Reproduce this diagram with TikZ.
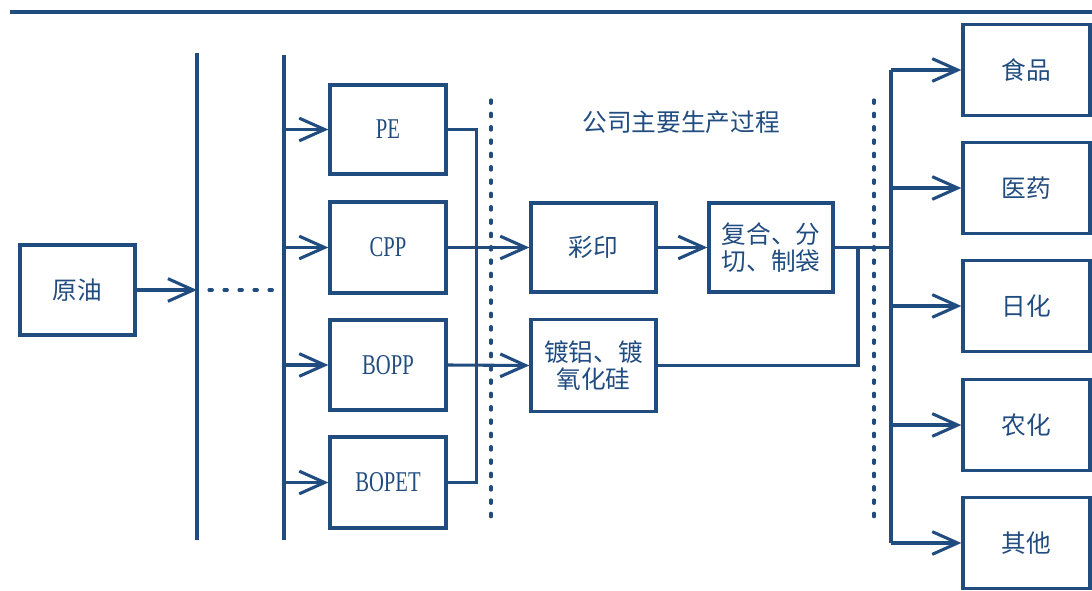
\documentclass[tikz,border=0pt]{standalone}
\usepackage{fontspec}
\usetikzlibrary{arrows.meta}
\newfontfamily\cjk{Noto Sans CJK SC}
\newfontfamily\latf[FakeStretch=0.72]{Liberation Serif}
\definecolor{dblue}{RGB}{33,76,128}
\begin{document}
\begin{tikzpicture}[x=0.75pt,y=-0.75pt,
 line/.style={draw=dblue, line width=2.3pt},
 arr/.style={line, -{Straight Barb[length=19pt,width=17pt]}},
 box/.style={draw=dblue, line width=2.5pt, minimum width=86.25pt, minimum height=67.5pt, inner sep=0pt, text=dblue, align=center},
 cn/.style={font=\cjk\fontsize{18.5}{20.5}\selectfont},
 en/.style={font=\latf\fontsize{21.5}{24}\selectfont},
 vdots/.style={draw=dblue, line width=2.4pt, line cap=round, dash pattern=on 2.5pt off 7.5pt},
 hdots/.style={draw=dblue, line width=2.3pt, line cap=round, dash pattern=on 2.5pt off 8.75pt},
]
\useasboundingbox (0,0) rectangle (1092,591);

% top rule
\coordinate (tl) at (10,12);
\coordinate (tr) at (1092,12);
\draw[draw=dblue, line width=2.6pt] (tl) -- (tr);

% left boxes
\node[box, cn] (yuanyou) at (77.5,290) {原油};
\node[box, en, minimum width=87pt, minimum height=66.75pt] (pe) at (388,129.5) {PE};
\node[box, en, minimum width=87pt, minimum height=68.25pt] (cpp) at (388,247.5) {CPP};
\node[box, en, minimum width=87pt] (bopp) at (388,365) {BOPP};
\node[box, en, minimum width=87pt, minimum height=68.25pt] (bopet) at (388,482.5) {BOPET};

% middle boxes
\node[box, cn, minimum width=93.75pt, minimum height=66.75pt] (caiyin) at (593.5,247.5) {彩印};
\node[box, cn, minimum width=93pt, minimum height=66.75pt] (fuhe) at (771,247.5) {复合、分\\切、制袋};
\node[box, cn, minimum width=93.75pt, minimum height=69pt] (dulv) at (593.5,365.5) {镀铝、镀\\氧化硅};

% right boxes
\node[box, cn, minimum width=95.25pt, minimum height=68.25pt] (shipin) at (1026.5,70) {食品};
\node[box, cn, minimum width=95.25pt, minimum height=68.25pt] (yiyao) at (1026.5,188) {医药};
\node[box, cn, minimum width=95.25pt, minimum height=68.25pt] (rihua) at (1026.5,306) {日化};
\node[box, cn, minimum width=95.25pt, minimum height=68.25pt] (nonghua) at (1026.5,425) {农化};
\node[box, cn, minimum width=95.25pt, minimum height=68.25pt] (qita) at (1026.5,543) {其他};

% title
\node[cn, text=dblue] (title) at (681,122) {公司主要生产过程};

% vertical buses
\coordinate (b1t) at (197,53);
\coordinate (b1b) at (197,540);
\coordinate (b2t) at (284,55);
\coordinate (b2b) at (284,540);
\draw[line] (b1t) -- (b1b);
\draw[line] (b2t) -- (b2b);

% crude oil arrow and dotted link
\coordinate (b1m) at (197,290);
\draw[arr] (yuanyou.east) -- (b1m);
\coordinate (d1) at (209,290);
\coordinate (d2) at (276,290);
\draw[hdots] (d1) -- (d2);

% arrows to film boxes
\foreach \n in {pe,cpp,bopp,bopet}
  \draw[arr] (\n.west -| b2t) -- (\n.west);

% collector
\coordinate (col) at (476.5,0);
\draw[line] (pe.east) -| (col |- bopet.east) -- (bopet.east);

% dotted separators
\coordinate (s1t) at (491,100);
\coordinate (s1b) at (491,522);
\coordinate (s2t) at (874,100);
\coordinate (s2b) at (874,522);
\draw[vdots] (s1t) -- (s1b);
\draw[vdots] (s2t) -- (s2b);

% process arrows
\draw[arr] (cpp.east) -- (caiyin.west);
\draw[arr] (bopp.east) -- (dulv.west);
\draw[arr] (caiyin.east) -- (fuhe.west);

% right bus
\coordinate (rb) at (891,0);
\coordinate (jn) at (858,0);
\draw[line] (fuhe.east) -- (fuhe.east -| rb);
\draw[line] (dulv.east) -| (jn |- fuhe.east);
\draw[line] (rb |- shipin.west) -- (rb |- qita.west);
\foreach \n in {shipin,yiyao,rihua,nonghua,qita}
  \draw[arr] (rb |- \n.west) -- (\n.west);
\end{tikzpicture}
\end{document}
